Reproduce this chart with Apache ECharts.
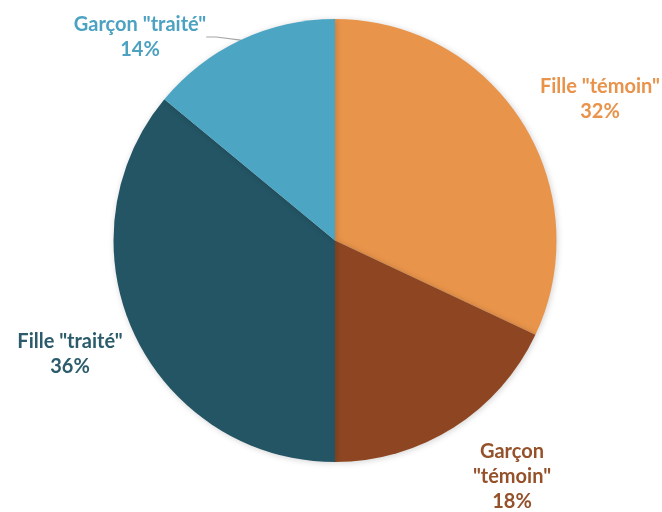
<!DOCTYPE html>
<html>
<head>
<meta charset="utf-8">
<script src="https://cdn.jsdelivr.net/npm/echarts@6/dist/echarts.min.js"></script>
<style>
  html, body { margin: 0; padding: 0; background: #fff; }
  #chart { width: 662px; height: 512px; }
</style>
</head>
<body>
<div id="chart"></div>
<script>
// Répartition des élèves par groupe
const categories = ['Fille "témoin"', 'Garçon\n"témoin"', 'Fille "traité"', 'Garçon "traité"'];
const shares = [32, 18, 36, 14];
const sliceColors = ['#E9944B', '#8D4621', '#245565', '#4DA5C4'];
const labelColors = ['#E8924A', '#94512A', '#2C5C6B', '#4DA2C2'];
// label anchor points (centre of each text block)
const labelAnchors = [[600, 99], [512, 477], [70, 354], [140, 37]];

const chart = echarts.init(document.getElementById('chart'));

const data = categories.map((name, i) => ({
  name: name,
  value: shares[i],
  itemStyle: { color: sliceColors[i] },
  label: { color: labelColors[i] },
  labelLine: { show: i === 3 }
}));

chart.setOption({
  animation: false,
  series: [{
    type: 'pie',
    center: [335, 240.5],
    radius: [0, 221.5],
    startAngle: 90,
    clockwise: true,
    data: data,
    itemStyle: {
      borderWidth: 0,
      shadowBlur: 6,
      shadowColor: 'rgba(0,0,0,0.18)',
      shadowOffsetX: 1,
      shadowOffsetY: 1
    },
    label: {
      show: true,
      position: 'outside',
      formatter: p => p.name + '\n' + p.value + '%',
      fontFamily: 'Lato',
      fontWeight: 'bold',
      fontSize: 20,
      lineHeight: 25,
      align: 'center',
      overflow: 'none',
      edgeDistance: 0
    },
    labelLine: {
      length: 10,
      length2: 10,
      lineStyle: { color: '#A6A6A6', width: 1.2 }
    },
    labelLayout: function (params) {
      const a = labelAnchors[params.dataIndex];
      return {
        x: a[0],
        y: a[1],
        align: 'center',
        verticalAlign: 'middle'
      };
    }
  }]
});
</script>
</body>
</html>
